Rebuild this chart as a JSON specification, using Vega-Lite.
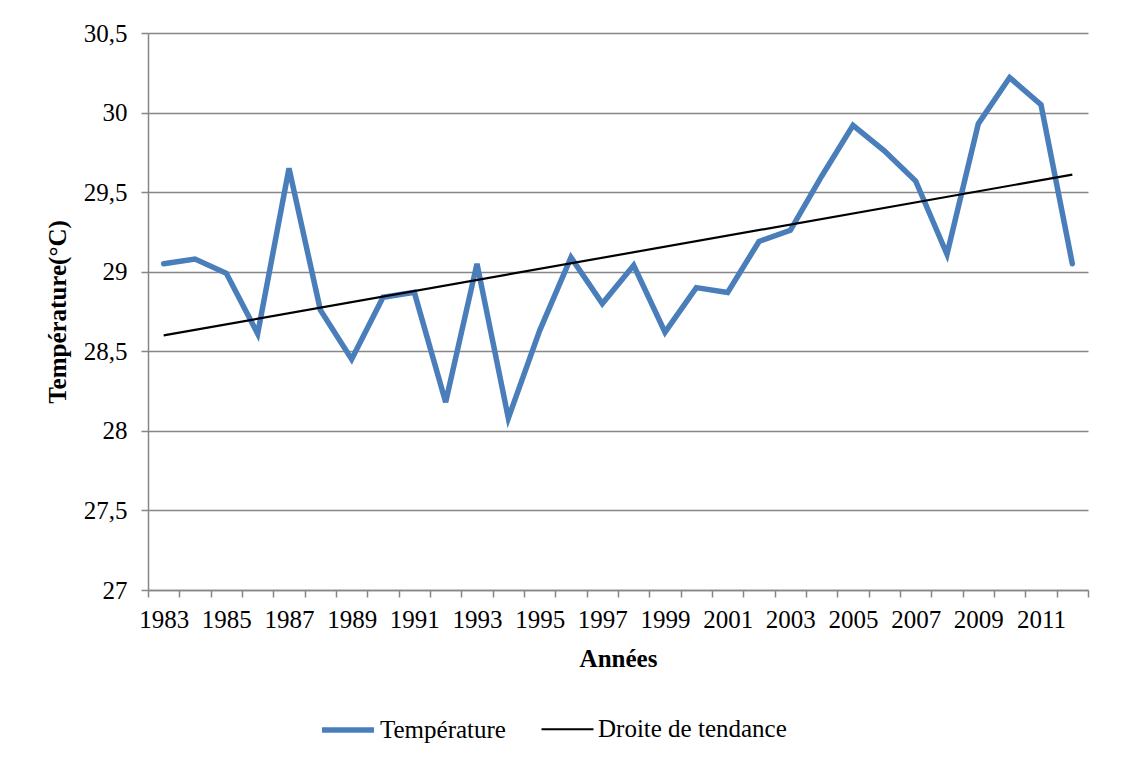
{
  "$schema": "https://vega.github.io/schema/vega-lite/v6.json",
  "width": 940,
  "height": 557,
  "autosize": {"type": "none"},
  "padding": {"left": 148, "top": 33, "right": 41, "bottom": 176},
  "background": "white",
  "config": {
    "font": "Liberation Serif",
    "view": {"stroke": null},
    "axis": {
      "labelFont": "Liberation Serif",
      "titleFont": "Liberation Serif",
      "labelFontSize": 25,
      "titleFontSize": 25,
      "labelColor": "black",
      "titleColor": "black",
      "titleFontWeight": "bold",
      "domainColor": "#868686",
      "tickColor": "#868686",
      "gridColor": "#868686",
      "domainWidth": 1.5,
      "tickWidth": 1.5,
      "gridWidth": 1.5,
      "tickSize": 7
    },
    "legend": {
      "labelFont": "Liberation Serif",
      "labelFontSize": 25,
      "labelColor": "black",
      "labelLimit": 400
    }
  },
  "datasets": {
    "temp": [
      {"annee": 1983, "temperature": 29.05, "serie": "Température"},
      {"annee": 1984, "temperature": 29.08, "serie": "Température"},
      {"annee": 1985, "temperature": 28.99, "serie": "Température"},
      {"annee": 1986, "temperature": 28.61, "serie": "Température"},
      {"annee": 1987, "temperature": 29.65, "serie": "Température"},
      {"annee": 1988, "temperature": 28.76, "serie": "Température"},
      {"annee": 1989, "temperature": 28.45, "serie": "Température"},
      {"annee": 1990, "temperature": 28.84, "serie": "Température"},
      {"annee": 1991, "temperature": 28.87, "serie": "Température"},
      {"annee": 1992, "temperature": 28.18, "serie": "Température"},
      {"annee": 1993, "temperature": 29.05, "serie": "Température"},
      {"annee": 1994, "temperature": 28.08, "serie": "Température"},
      {"annee": 1995, "temperature": 28.63, "serie": "Température"},
      {"annee": 1996, "temperature": 29.09, "serie": "Température"},
      {"annee": 1997, "temperature": 28.8, "serie": "Température"},
      {"annee": 1998, "temperature": 29.04, "serie": "Température"},
      {"annee": 1999, "temperature": 28.62, "serie": "Température"},
      {"annee": 2000, "temperature": 28.9, "serie": "Température"},
      {"annee": 2001, "temperature": 28.87, "serie": "Température"},
      {"annee": 2002, "temperature": 29.19, "serie": "Température"},
      {"annee": 2003, "temperature": 29.26, "serie": "Température"},
      {"annee": 2004, "temperature": 29.6, "serie": "Température"},
      {"annee": 2005, "temperature": 29.92, "serie": "Température"},
      {"annee": 2006, "temperature": 29.76, "serie": "Température"},
      {"annee": 2007, "temperature": 29.57, "serie": "Température"},
      {"annee": 2008, "temperature": 29.11, "serie": "Température"},
      {"annee": 2009, "temperature": 29.93, "serie": "Température"},
      {"annee": 2010, "temperature": 30.22, "serie": "Température"},
      {"annee": 2011, "temperature": 30.05, "serie": "Température"},
      {"annee": 2012, "temperature": 29.05, "serie": "Température"}
    ],
    "trend": [
      {"annee": 1983, "temperature": 28.6, "serie": "Droite de tendance"},
      {"annee": 2012, "temperature": 29.61, "serie": "Droite de tendance"}
    ]
  },
  "encoding": {
    "x": {
      "field": "annee",
      "type": "ordinal",
      "scale": {"paddingInner": 0, "paddingOuter": 0},
      "axis": {
        "title": "Années",
        "labelFont": "Liberation Serif",
        "titleFont": "Liberation Serif",
        "labelFontSize": 25,
        "labelAngle": 0,
        "tickBand": "extent",
        "labelOverlap": false,
        "labelPadding": 10,
        "titlePadding": 14,
        "labelExpr": "datum.value % 2 == 1 ? datum.label : ''",
        "grid": false
      }
    },
    "y": {
      "field": "temperature",
      "type": "quantitative",
      "scale": {"domain": [27, 30.5], "nice": false, "zero": false},
      "axis": {
        "title": "Température(°C)",
        "labelFont": "Liberation Serif",
        "titleFont": "Liberation Serif",
        "labelFontSize": 25,
        "values": [27, 27.5, 28, 28.5, 29, 29.5, 30, 30.5],
        "format": ".1~f",
        "labelExpr": "replace(datum.label, '.', ',')",
        "labelPadding": 14,
        "titlePadding": 13,
        "grid": true
      }
    },
    "color": {
      "field": "serie",
      "type": "nominal",
      "scale": {"domain": ["Température", "Droite de tendance"], "range": ["#4a7ebb", "#000000"]},
      "legend": {
        "title": null,
        "orient": "none",
        "direction": "horizontal",
        "legendX": 171,
        "legendY": 668,
        "symbolType": "stroke",
        "symbolSize": 2700,
        "labelOffset": 3,
        "labelLimit": 400,
        "columnPadding": 31
      }
    },
    "strokeWidth": {
      "field": "serie",
      "type": "nominal",
      "scale": {"domain": ["Température", "Droite de tendance"], "range": [5.5, 2.2]},
      "legend": {
        "title": null,
        "orient": "none",
        "direction": "horizontal",
        "legendX": 171,
        "legendY": 668,
        "symbolType": "stroke",
        "symbolSize": 2700,
        "labelOffset": 3,
        "labelLimit": 400,
        "columnPadding": 31
      }
    }
  },
  "layer": [
    {"data": {"name": "temp"}, "mark": {"type": "line", "strokeCap": "round"}},
    {"data": {"name": "trend"}, "mark": {"type": "line"}}
  ]
}
